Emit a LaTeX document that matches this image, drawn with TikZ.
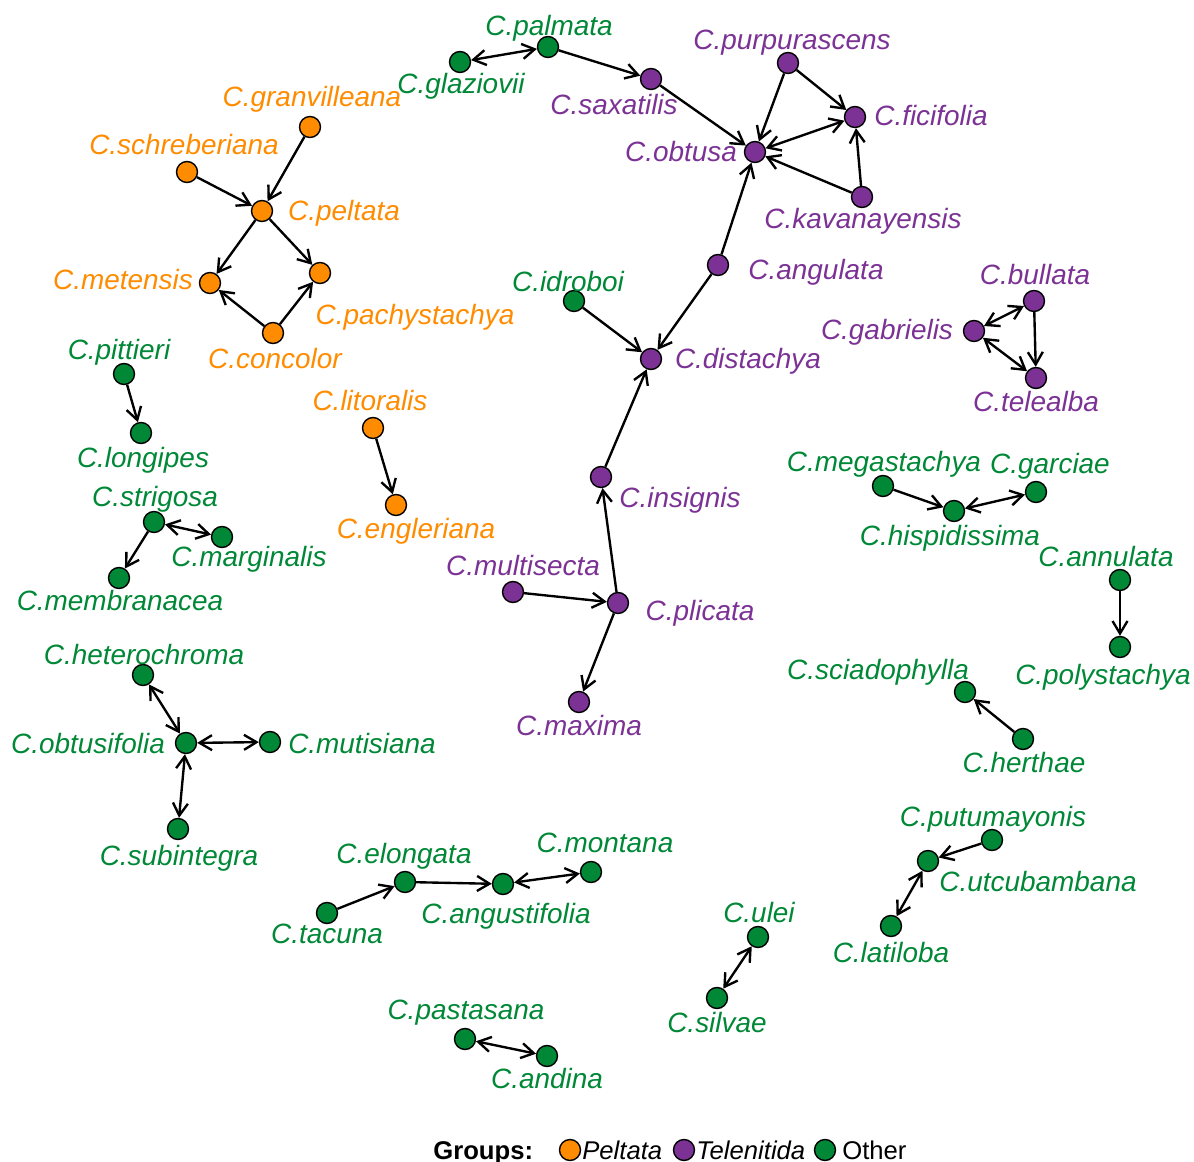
\documentclass[tikz,border=0pt]{standalone}
\usepackage{fontspec}
\setmainfont{Liberation Sans}
\usetikzlibrary{arrows.meta}
\definecolor{peltc}{HTML}{FF8C00}
\definecolor{telec}{HTML}{7B3294}
\definecolor{othc}{HTML}{008837}
\tikzset{
  sp/.style={circle,draw=black,line width=0.8pt,minimum size=0.42cm,inner sep=0pt,fill=#1},
  tx/.style={text=#1,font=\fontsize{15.9}{18}\selectfont\itshape,anchor=base,inner sep=0pt},
  ed/.style={-{Straight Barb[length=2.5mm,width=3mm]},line width=1.35pt},
  bi/.style={{Straight Barb[length=2.5mm,width=3mm]}-{Straight Barb[length=2.5mm,width=3mm]},line width=1.35pt}
}
\begin{document}
\begin{tikzpicture}[x=0.02cm,y=-0.02cm]
\useasboundingbox (0,0) rectangle (1194,1162);
% Telenitida
\node[sp=telec] (saxatilis) at (651,79) {};
\node[sp=telec] (purpurascens) at (788,63) {};
\node[sp=telec] (ficifolia) at (855,117) {};
\node[sp=telec] (obtusa) at (755,152) {};
\node[sp=telec] (kavanayensis) at (862,197) {};
\node[sp=telec] (angulata) at (718,265) {};
\node[sp=telec] (distachya) at (651,359) {};
\node[sp=telec] (insignis) at (601,477) {};
\node[sp=telec] (plicata) at (618,603) {};
\node[sp=telec] (multisecta) at (513,592) {};
\node[sp=telec] (maxima) at (579,702) {};
\node[sp=telec] (bullata) at (1034,301) {};
\node[sp=telec] (gabrielis) at (974,331) {};
\node[sp=telec] (telealba) at (1036,378) {};
\node[tx=telec] (saxatilis-t) at (614,115) {C.saxatilis};
\node[tx=telec] (purpurascens-t) at (792,50) {C.purpurascens};
\node[tx=telec] (ficifolia-t) at (931,126) {C.ficifolia};
\node[tx=telec] (obtusa-t) at (681,162) {C.obtusa};
\node[tx=telec] (kavanayensis-t) at (863,229) {C.kavanayensis};
\node[tx=telec] (angulata-t) at (816,280) {C.angulata};
\node[tx=telec] (distachya-t) at (748,369) {C.distachya};
\node[tx=telec] (insignis-t) at (680,507) {C.insignis};
\node[tx=telec] (plicata-t) at (700,620) {C.plicata};
\node[tx=telec] (multisecta-t) at (523,575) {C.multisecta};
\node[tx=telec] (maxima-t) at (579,735) {C.maxima};
\node[tx=telec] (bullata-t) at (1035,285) {C.bullata};
\node[tx=telec] (gabrielis-t) at (887,339) {C.gabrielis};
\node[tx=telec] (telealba-t) at (1036,411) {C.telealba};
% Peltata
\node[sp=peltc] (granvilleana) at (310,127) {};
\node[sp=peltc] (schreberiana) at (187,172) {};
\node[sp=peltc] (peltata) at (262,211) {};
\node[sp=peltc] (metensis) at (210,283) {};
\node[sp=peltc] (pachystachya) at (320,273) {};
\node[sp=peltc] (concolor) at (273,333) {};
\node[sp=peltc] (litoralis) at (373,428) {};
\node[sp=peltc] (engleriana) at (396,505) {};
\node[tx=peltc] (granvilleana-t) at (312,107) {C.granvilleana};
\node[tx=peltc] (schreberiana-t) at (184,155) {C.schreberiana};
\node[tx=peltc] (peltata-t) at (344,221) {C.peltata};
\node[tx=peltc] (metensis-t) at (123,290) {C.metensis};
\node[tx=peltc] (pachystachya-t) at (415,325) {C.pachystachya};
\node[tx=peltc] (concolor-t) at (275,369) {C.concolor};
\node[tx=peltc] (litoralis-t) at (370,410) {C.litoralis};
\node[tx=peltc] (engleriana-t) at (416,538) {C.engleriana};
% Other
\node[sp=othc] (glaziovii) at (460,62) {};
\node[sp=othc] (palmata) at (548,47) {};
\node[sp=othc] (idroboi) at (574,301) {};
\node[sp=othc] (pittieri) at (124,374) {};
\node[sp=othc] (longipes) at (141,433) {};
\node[sp=othc] (strigosa) at (154,522) {};
\node[sp=othc] (marginalis) at (222,537) {};
\node[sp=othc] (membranacea) at (119,578) {};
\node[sp=othc] (heterochroma) at (143,675) {};
\node[sp=othc] (obtusifolia) at (186,743) {};
\node[sp=othc] (mutisiana) at (270,742) {};
\node[sp=othc] (subintegra) at (178,829) {};
\node[sp=othc] (tacuna) at (327,913) {};
\node[sp=othc] (elongata) at (405,882) {};
\node[sp=othc] (angustifolia) at (503,884) {};
\node[sp=othc] (montana) at (591,872) {};
\node[sp=othc] (pastasana) at (465,1039) {};
\node[sp=othc] (andina) at (547,1056) {};
\node[sp=othc] (ulei) at (758,937) {};
\node[sp=othc] (silvae) at (717,998) {};
\node[sp=othc] (putumayonis) at (992,840) {};
\node[sp=othc] (utcubambana) at (928,861) {};
\node[sp=othc] (latiloba) at (891,926) {};
\node[sp=othc] (herthae) at (1023,739) {};
\node[sp=othc] (sciadophylla) at (965,692) {};
\node[sp=othc] (annulata) at (1120,580) {};
\node[sp=othc] (polystachya) at (1120,647) {};
\node[sp=othc] (megastachya) at (883,486) {};
\node[sp=othc] (hispidissima) at (954,511) {};
\node[sp=othc] (garciae) at (1036,492) {};
\node[tx=othc] (glaziovii-t) at (461,94) {C.glaziovii};
\node[tx=othc] (palmata-t) at (549,36) {C.palmata};
\node[tx=othc] (idroboi-t) at (568,292) {C.idroboi};
\node[tx=othc] (pittieri-t) at (119,359) {C.pittieri};
\node[tx=othc] (longipes-t) at (143,467) {C.longipes};
\node[tx=othc] (strigosa-t) at (155,506) {C.strigosa};
\node[tx=othc] (marginalis-t) at (249,566) {C.marginalis};
\node[tx=othc] (membranacea-t) at (120,610) {C.membranacea};
\node[tx=othc] (heterochroma-t) at (144,664) {C.heterochroma};
\node[tx=othc] (obtusifolia-t) at (88,753) {C.obtusifolia};
\node[tx=othc] (mutisiana-t) at (362,753) {C.mutisiana};
\node[tx=othc] (subintegra-t) at (179,865) {C.subintegra};
\node[tx=othc] (tacuna-t) at (327,943) {C.tacuna};
\node[tx=othc] (elongata-t) at (404,863) {C.elongata};
\node[tx=othc] (angustifolia-t) at (506,923) {C.angustifolia};
\node[tx=othc] (montana-t) at (605,852) {C.montana};
\node[tx=othc] (pastasana-t) at (466,1019) {C.pastasana};
\node[tx=othc] (andina-t) at (547,1088) {C.andina};
\node[tx=othc] (ulei-t) at (759,922) {C.ulei};
\node[tx=othc] (silvae-t) at (717,1032) {C.silvae};
\node[tx=othc] (putumayonis-t) at (993,826) {C.putumayonis};
\node[tx=othc] (utcubambana-t) at (1038,891) {C.utcubambana};
\node[tx=othc] (latiloba-t) at (891,962) {C.latiloba};
\node[tx=othc] (herthae-t) at (1024,772) {C.herthae};
\node[tx=othc] (sciadophylla-t) at (878,679) {C.sciadophylla};
\node[tx=othc] (annulata-t) at (1106,566) {C.annulata};
\node[tx=othc] (polystachya-t) at (1103,684) {C.polystachya};
\node[tx=othc] (megastachya-t) at (884,471) {C.megastachya};
\node[tx=othc] (hispidissima-t) at (950,545) {C.hispidissima};
\node[tx=othc] (garciae-t) at (1050,473) {C.garciae};
% edges
\draw[bi] (glaziovii) -- (palmata);
\draw[ed] (palmata) -- (saxatilis);
\draw[ed] (saxatilis) -- (obtusa);
\draw[ed] (purpurascens) -- (obtusa);
\draw[ed] (purpurascens) -- (ficifolia);
\draw[bi] (obtusa) -- (ficifolia);
\draw[ed] (kavanayensis) -- (obtusa);
\draw[ed] (kavanayensis) -- (ficifolia);
\draw[ed] (angulata) -- (obtusa);
\draw[ed] (angulata) -- (distachya);
\draw[ed] (idroboi) -- (distachya);
\draw[ed] (insignis) -- (distachya);
\draw[ed] (plicata) -- (insignis);
\draw[ed] (multisecta) -- (plicata);
\draw[ed] (plicata) -- (maxima);
\draw[bi] (bullata) -- (gabrielis);
\draw[ed] (bullata) -- (telealba);
\draw[bi] (gabrielis) -- (telealba);
\draw[ed] (granvilleana) -- (peltata);
\draw[ed] (schreberiana) -- (peltata);
\draw[ed] (peltata) -- (metensis);
\draw[ed] (peltata) -- (pachystachya);
\draw[ed] (concolor) -- (metensis);
\draw[ed] (concolor) -- (pachystachya);
\draw[ed] (litoralis) -- (engleriana);
\draw[ed] (pittieri) -- (longipes);
\draw[bi] (strigosa) -- (marginalis);
\draw[ed] (strigosa) -- (membranacea);
\draw[bi] (heterochroma) -- (obtusifolia);
\draw[bi] (obtusifolia) -- (mutisiana);
\draw[bi] (obtusifolia) -- (subintegra);
\draw[ed] (tacuna) -- (elongata);
\draw[ed] (elongata) -- (angustifolia);
\draw[bi] (angustifolia) -- (montana);
\draw[bi] (pastasana) -- (andina);
\draw[bi] (ulei) -- (silvae);
\draw[ed] (putumayonis) -- (utcubambana);
\draw[bi] (utcubambana) -- (latiloba);
\draw[ed] (herthae) -- (sciadophylla);
\draw[ed] (annulata) -- (polystachya);
\draw[ed] (megastachya) -- (hispidissima);
\draw[bi] (hispidissima) -- (garciae);
% legend
\node[anchor=base west,inner sep=0pt,font=\fontsize{14.6}{17}\selectfont\bfseries] (groups) at (433,1159) {Groups:};
\node[sp=peltc] (leg-pelt) at (570,1150) {};
\node[anchor=base west,inner sep=0pt,font=\fontsize{14.6}{17}\selectfont\itshape] (leg-pelt-t) at (582,1159) {Peltata};
\node[sp=telec] (leg-tele) at (684,1150) {};
\node[anchor=base west,inner sep=0pt,font=\fontsize{14.6}{17}\selectfont\itshape] (leg-tele-t) at (696,1159) {Telenitida};
\node[sp=othc] (leg-oth) at (825,1150) {};
\node[anchor=base west,inner sep=0pt,font=\fontsize{14.6}{17}\selectfont] (leg-oth-t) at (842,1159) {Other};
\end{tikzpicture}
\end{document}
